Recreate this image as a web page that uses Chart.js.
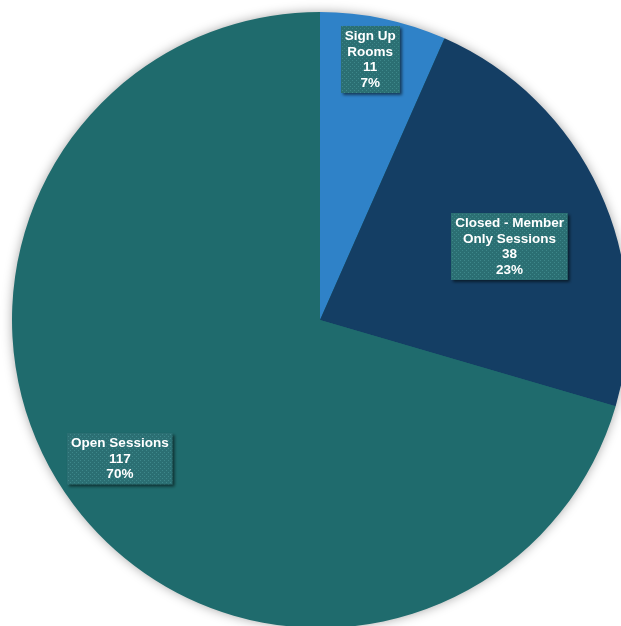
<!DOCTYPE html>
<html lang="en">
<head>
<meta charset="utf-8">
<script src="https://cdn.jsdelivr.net/npm/chart.js@4.4.0/dist/chart.umd.min.js"></script>
<style>
  html, body { margin: 0; padding: 0; background: #fff; overflow: hidden; }
  #wrap { position: relative; width: 621px; height: 626px; overflow: hidden; }
  #grafica { position: absolute; left: 0; top: 0; }
</style>
</head>
<body>
<div id="wrap">
  <canvas id="grafica" width="640" height="640"></canvas>
</div>
<script>
// categories (one line per entry) and counts
const categorias = [['Sign Up', 'Rooms'], ['Closed - Member', 'Only Sessions'], ['Open Sessions']];
const sesiones = [11, 38, 117];
const colores = ['#2f82c8', '#143e64', '#1f6b6d'];

// where each label box sits: fraction of radius and small angle shift (deg)
const posEtiquetas = [
  { r: 0.86, da: -1.0 },
  { r: 0.66, da: 3.8 },
  { r: 0.79, da: 2.2 }
];

const crearPatron = () => {
  const c = document.createElement('canvas');
  c.width = 4; c.height = 4;
  const x = c.getContext('2d');
  x.fillStyle = '#2b6f73';
  x.fillRect(0, 0, 4, 4);
  x.fillStyle = '#3d878a';
  x.fillRect(0, 0, 1, 1);
  x.fillRect(2, 2, 1, 1);
  return x.createPattern(c, 'repeat');
};

const sombraPie = {
  id: 'sombraPie',
  beforeDatasetsDraw(chart) {
    const arc = chart.getDatasetMeta(0).data[0];
    if (!arc) return;
    const ctx = chart.ctx;
    ctx.save();
    ctx.shadowColor = 'rgba(0,0,0,0.4)';
    ctx.shadowBlur = 12;
    ctx.fillStyle = '#1f6b6d';
    ctx.beginPath();
    ctx.arc(arc.x, arc.y, arc.outerRadius - 1, 0, Math.PI * 2);
    ctx.fill();
    ctx.restore();
  }
};

const etiquetas = {
  id: 'etiquetas',
  afterDatasetsDraw(chart) {
    const ctx = chart.ctx;
    const meta = chart.getDatasetMeta(0);
    const datos = chart.data.datasets[0].data;
    const total = datos.reduce((a, b) => a + b, 0);
    const patron = crearPatron();
    const lh = 15.5;
    ctx.save();
    ctx.font = 'bold 13.5px "Liberation Sans", Arial, sans-serif';
    ctx.textAlign = 'center';
    ctx.textBaseline = 'middle';
    meta.data.forEach((arc, i) => {
      const p = posEtiquetas[i];
      const mid = (arc.startAngle + arc.endAngle) / 2 + p.da * Math.PI / 180;
      const cx = arc.x + Math.cos(mid) * arc.outerRadius * p.r;
      const cy = arc.y + Math.sin(mid) * arc.outerRadius * p.r;
      const lineas = [].concat(chart.data.labels[i], String(datos[i]), Math.round(datos[i] / total * 100) + '%');
      const w = Math.max(...lineas.map(l => ctx.measureText(l).width)) + 8;
      const h = lineas.length * lh + 5;
      const x0 = Math.round(cx - w / 2), y0 = Math.round(cy - h / 2);
      ctx.save();
      ctx.shadowColor = 'rgba(0,0,0,0.55)';
      ctx.shadowBlur = 3;
      ctx.shadowOffsetX = 2;
      ctx.shadowOffsetY = 2;
      ctx.fillStyle = patron;
      ctx.fillRect(x0, y0, w, h);
      ctx.restore();
      ctx.fillStyle = '#ffffff';
      lineas.forEach((l, k) => {
        ctx.fillText(l, cx, y0 + 3 + lh * k + lh / 2);
      });
    });
    ctx.restore();
  }
};

new Chart(document.getElementById('grafica'), {
  type: 'pie',
  data: {
    labels: categorias,
    datasets: [{
      data: sesiones,
      backgroundColor: colores,
      borderWidth: 0,
      hoverBorderWidth: 0,
      hoverOffset: 0
    }]
  },
  options: {
    responsive: false,
    animation: false,
    devicePixelRatio: 1,
    layout: { padding: 12 },
    plugins: {
      legend: { display: false },
      tooltip: { enabled: false }
    }
  },
  plugins: [sombraPie, etiquetas]
});
</script>
</body>
</html>
